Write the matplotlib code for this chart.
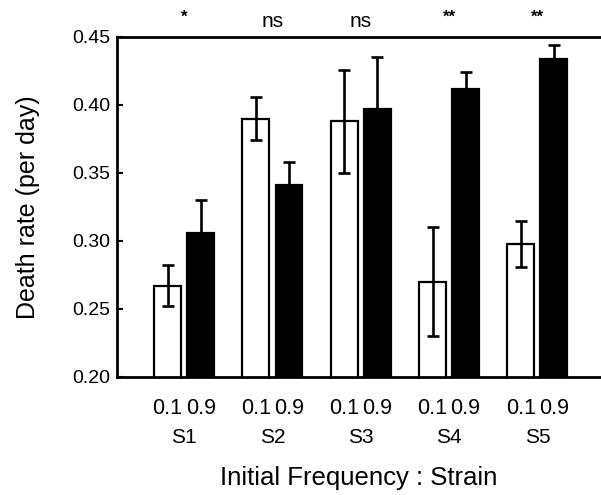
"""
Death rate per strain at two initial frequencies (bar chart with SE bars).
"""

import numpy as np
import matplotlib
matplotlib.use("Agg")
import matplotlib.pyplot as plt


# ============================================================
# DATA
# ============================================================

strains = ["S1", "S2", "S3", "S4", "S5"]
freq_labels = ["0.1", "0.9"]

rate_low = [0.267, 0.390, 0.388, 0.270, 0.298]     # initial frequency 0.1
err_low = [0.015, 0.016, 0.038, 0.040, 0.017]

rate_high = [0.306, 0.341, 0.397, 0.412, 0.434]    # initial frequency 0.9
err_high = [0.024, 0.017, 0.038, 0.012, 0.010]

signif = ["*", "ns", "ns", "**", "**"]


# ============================================================
# PLOT
# ============================================================

plt.rcParams["font.family"] = ["Liberation Sans", "DejaVu Sans"]

fig = plt.figure(figsize=(6.01, 4.95), dpi=100)
ax = fig.add_axes([0.1947, 0.2384, 0.8053, 0.6869])

x = np.arange(len(strains))
width = 0.305
offset = 0.187

err_style = dict(ecolor="black", elinewidth=1.9, capsize=4.3, capthick=1.9)

ax.bar(x - offset, rate_low, width,
       color="white", edgecolor="black", linewidth=1.6, zorder=2)
ax.errorbar(x - offset, rate_low, yerr=err_low, fmt="none", zorder=3, **err_style)

ax.bar(x + offset, rate_high, width,
       color="black", edgecolor="black", linewidth=1.6, zorder=2)
ax.errorbar(x + offset, rate_high, yerr=err_high, fmt="none", zorder=1, **err_style)

ax.set_xlim(-0.76, 4.72)
ax.set_ylim(0.20, 0.45)
ax.set_yticks([0.20, 0.25, 0.30, 0.35, 0.40, 0.45])
ax.set_yticklabels([f"{v:.2f}" for v in ax.get_yticks()])

# frequency labels under each bar, strain labels under each pair
bar_pos = np.ravel(np.column_stack([x - offset, x + offset]))
ax.set_xticks(bar_pos)
ax.set_xticklabels(freq_labels * len(strains))
ax.set_xticks(x, minor=True)
ax.set_xticklabels(strains, minor=True)

ax.tick_params(axis="x", which="major", length=0, pad=15, labelsize=15.5)
ax.tick_params(axis="x", which="minor", length=0, pad=37, labelsize=15)
ax.tick_params(axis="y", direction="in", length=4, width=1.5, pad=5, labelsize=14)

for side in ["left", "bottom", "top"]:
    ax.spines[side].set_linewidth(2.0)
ax.spines["right"].set_visible(False)

for xi, s in zip(x, signif):
    if s == "ns":
        ax.text(xi, 0.4574, s, ha="center", va="baseline", fontsize=15,
                clip_on=False)
    else:
        ax.text(xi, 0.4615, s, ha="center", va="baseline", fontsize=12,
                fontweight="bold", clip_on=False)

ax.set_ylabel("Death rate (per day)", fontsize=18)
ax.yaxis.set_label_coords(-0.159, 0.5)
ax.set_xlabel("Initial Frequency : Strain", fontsize=18.5)
ax.xaxis.set_label_coords(0.5, -0.262)

fig.savefig("out.png", dpi=100)
